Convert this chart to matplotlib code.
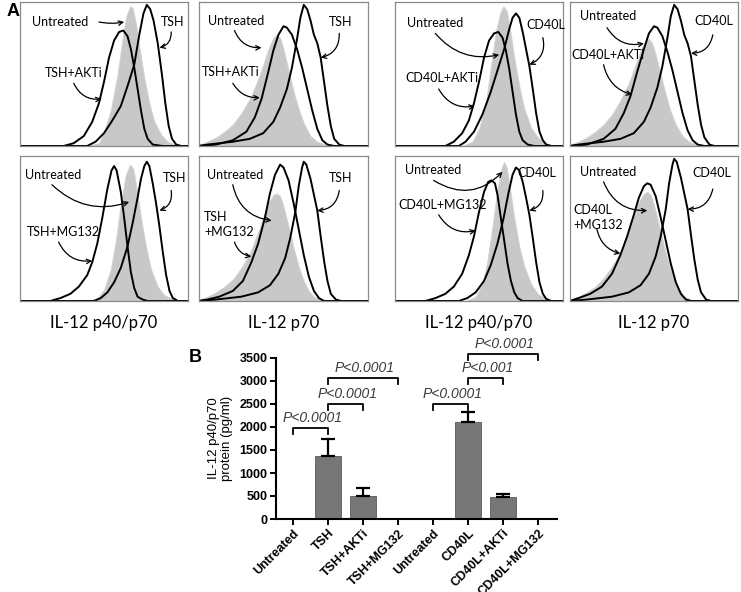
import matplotlib
matplotlib.use("Agg")
import matplotlib.pyplot as plt

# ---- panel A: histogram outlines (x, y as fraction of panel) ----
P1_UNT = [(0.40, 0), (0.47, 0.02), (0.50, 0.10), (0.54, 0.25), (0.58, 0.50), (0.61, 0.75), (0.63, 0.90),
          (0.655, 0.98), (0.67, 0.97), (0.69, 0.86), (0.71, 0.70), (0.74, 0.48), (0.77, 0.30), (0.80, 0.17),
          (0.84, 0.08), (0.88, 0.03), (0.94, 0.005), (1.0, 0)]
P1_INH = [(0, 0), (0.26, 0), (0.32, 0.02), (0.38, 0.07), (0.43, 0.17), (0.47, 0.30), (0.50, 0.45), (0.53, 0.62),
          (0.56, 0.74), (0.59, 0.80), (0.615, 0.81), (0.64, 0.77), (0.66, 0.68), (0.68, 0.55), (0.70, 0.40),
          (0.72, 0.25), (0.74, 0.12), (0.76, 0.05), (0.79, 0.01), (0.85, 0), (1, 0)]
P1_STIM = [(0, 0), (0.40, 0), (0.45, 0.03), (0.50, 0.09), (0.55, 0.18), (0.60, 0.28), (0.64, 0.42), (0.68, 0.57),
           (0.71, 0.78), (0.735, 0.93), (0.755, 0.99), (0.775, 0.96), (0.795, 0.88), (0.82, 0.72), (0.845, 0.50),
           (0.865, 0.30), (0.885, 0.14), (0.905, 0.05), (0.93, 0.01), (0.96, 0), (1, 0)]

P2_UNT = [(0, 0.01), (0.05, 0.03), (0.10, 0.06), (0.15, 0.10), (0.20, 0.15), (0.25, 0.23), (0.30, 0.33),
          (0.34, 0.44), (0.38, 0.57), (0.41, 0.68), (0.44, 0.76), (0.46, 0.78), (0.48, 0.76), (0.50, 0.68),
          (0.53, 0.53), (0.56, 0.38), (0.59, 0.26), (0.62, 0.16), (0.66, 0.07), (0.70, 0.03), (0.75, 0.01),
          (0.80, 0), (1, 0)]
P2_INH = [(0, 0), (0.10, 0.01), (0.20, 0.04), (0.28, 0.10), (0.33, 0.20), (0.37, 0.33), (0.41, 0.52),
          (0.44, 0.67), (0.47, 0.78), (0.50, 0.84), (0.52, 0.83), (0.55, 0.78), (0.58, 0.68), (0.61, 0.55),
          (0.64, 0.40), (0.67, 0.25), (0.70, 0.12), (0.73, 0.04), (0.76, 0.01), (0.80, 0), (1, 0)]
P2_STIM = [(0, 0), (0.05, 0.01), (0.20, 0.03), (0.30, 0.05), (0.38, 0.09), (0.44, 0.17), (0.48, 0.27),
           (0.52, 0.40), (0.55, 0.55), (0.58, 0.75), (0.60, 0.90), (0.62, 0.99), (0.64, 0.96), (0.66, 0.88),
           (0.68, 0.78), (0.70, 0.72), (0.72, 0.62), (0.74, 0.45), (0.76, 0.28), (0.78, 0.14), (0.80, 0.05),
           (0.83, 0.01), (0.86, 0), (1, 0)]

P3_UNT = [(0.40, 0), (0.46, 0.03), (0.50, 0.12), (0.54, 0.30), (0.57, 0.55), (0.60, 0.80), (0.625, 0.93),
          (0.645, 0.98), (0.665, 0.95), (0.685, 0.82), (0.71, 0.62), (0.74, 0.42), (0.77, 0.26), (0.81, 0.13),
          (0.85, 0.06), (0.90, 0.02), (0.95, 0), (1, 0)]
P3_INH = [(0, 0), (0.30, 0), (0.35, 0.03), (0.40, 0.09), (0.44, 0.18), (0.47, 0.30), (0.50, 0.45), (0.53, 0.62),
          (0.56, 0.74), (0.59, 0.79), (0.615, 0.80), (0.64, 0.76), (0.66, 0.67), (0.68, 0.54), (0.70, 0.38),
          (0.72, 0.22), (0.74, 0.10), (0.76, 0.04), (0.79, 0.01), (0.83, 0), (1, 0)]
P3_STIM = [(0, 0), (0.38, 0), (0.42, 0.03), (0.47, 0.10), (0.52, 0.22), (0.57, 0.38), (0.61, 0.53), (0.65, 0.68),
           (0.68, 0.82), (0.70, 0.90), (0.72, 0.93), (0.74, 0.90), (0.76, 0.80), (0.78, 0.68), (0.80, 0.56),
           (0.82, 0.40), (0.84, 0.23), (0.86, 0.10), (0.88, 0.04), (0.90, 0.01), (0.93, 0), (1, 0)]

P4_UNT = [(0, 0.01), (0.05, 0.03), (0.10, 0.06), (0.15, 0.10), (0.20, 0.15), (0.25, 0.22), (0.30, 0.32),
          (0.35, 0.44), (0.39, 0.57), (0.42, 0.67), (0.45, 0.74), (0.47, 0.75), (0.49, 0.72), (0.51, 0.64),
          (0.54, 0.50), (0.57, 0.36), (0.60, 0.24), (0.63, 0.15), (0.67, 0.07), (0.71, 0.03), (0.76, 0.01),
          (0.80, 0), (1, 0)]
P4_INH = [(0, 0), (0.10, 0.01), (0.20, 0.05), (0.27, 0.12), (0.32, 0.23), (0.36, 0.35), (0.40, 0.52),
          (0.44, 0.68), (0.47, 0.79), (0.50, 0.84), (0.52, 0.83), (0.55, 0.77), (0.58, 0.66), (0.61, 0.53),
          (0.64, 0.38), (0.67, 0.23), (0.70, 0.11), (0.73, 0.04), (0.76, 0.01), (0.80, 0), (1, 0)]
P4_STIM = [(0, 0), (0.05, 0.01), (0.20, 0.03), (0.30, 0.05), (0.38, 0.09), (0.44, 0.17), (0.48, 0.27),
           (0.52, 0.41), (0.55, 0.56), (0.58, 0.76), (0.60, 0.91), (0.62, 0.99), (0.64, 0.96), (0.66, 0.88),
           (0.68, 0.78), (0.70, 0.72), (0.72, 0.63), (0.74, 0.46), (0.76, 0.29), (0.78, 0.15), (0.80, 0.06),
           (0.83, 0.01), (0.86, 0), (1, 0)]

P5_UNT = [(0.40, 0), (0.46, 0.02), (0.50, 0.08), (0.54, 0.22), (0.57, 0.42), (0.60, 0.68), (0.63, 0.88),
          (0.655, 0.95), (0.675, 0.92), (0.695, 0.78), (0.72, 0.58), (0.75, 0.38), (0.78, 0.22), (0.82, 0.10),
          (0.86, 0.04), (0.92, 0.01), (1, 0)]
P5_INH = [(0, 0), (0.18, 0), (0.24, 0.02), (0.30, 0.05), (0.35, 0.10), (0.40, 0.18), (0.43, 0.27), (0.46, 0.40),
          (0.49, 0.58), (0.52, 0.78), (0.545, 0.91), (0.56, 0.94), (0.575, 0.91), (0.60, 0.76), (0.62, 0.58),
          (0.64, 0.38), (0.66, 0.20), (0.68, 0.09), (0.70, 0.03), (0.73, 0.01), (0.76, 0), (1, 0)]
P5_STIM = [(0, 0), (0.44, 0), (0.48, 0.02), (0.52, 0.06), (0.56, 0.13), (0.60, 0.23), (0.64, 0.38), (0.67, 0.54),
           (0.70, 0.72), (0.72, 0.85), (0.74, 0.94), (0.755, 0.97), (0.77, 0.94), (0.79, 0.82), (0.81, 0.68),
           (0.83, 0.52), (0.85, 0.34), (0.87, 0.18), (0.89, 0.07), (0.91, 0.02), (0.94, 0), (1, 0)]

P6_UNT = [(0, 0.01), (0.05, 0.03), (0.10, 0.06), (0.15, 0.10), (0.20, 0.15), (0.25, 0.23), (0.30, 0.33),
          (0.34, 0.45), (0.38, 0.58), (0.41, 0.68), (0.44, 0.74), (0.46, 0.75), (0.48, 0.73), (0.50, 0.66),
          (0.53, 0.52), (0.56, 0.37), (0.59, 0.24), (0.62, 0.14), (0.65, 0.07), (0.68, 0.03), (0.72, 0.01),
          (0.76, 0), (1, 0)]
P6_INH = [(0, 0), (0.05, 0.01), (0.12, 0.03), (0.20, 0.07), (0.26, 0.14), (0.31, 0.27), (0.35, 0.40),
          (0.39, 0.58), (0.42, 0.75), (0.45, 0.88), (0.48, 0.95), (0.50, 0.93), (0.53, 0.84), (0.56, 0.68),
          (0.59, 0.50), (0.62, 0.32), (0.65, 0.17), (0.68, 0.07), (0.71, 0.02), (0.74, 0), (1, 0)]
P6_STIM = [(0, 0), (0.10, 0.01), (0.25, 0.03), (0.35, 0.06), (0.42, 0.11), (0.47, 0.19), (0.51, 0.30),
           (0.54, 0.44), (0.57, 0.62), (0.59, 0.80), (0.61, 0.93), (0.62, 0.97), (0.635, 0.95), (0.66, 0.85),
           (0.68, 0.74), (0.70, 0.63), (0.72, 0.45), (0.74, 0.28), (0.76, 0.14), (0.78, 0.05), (0.81, 0.01),
           (0.84, 0), (1, 0)]

P7_UNT = [(0.42, 0), (0.48, 0.03), (0.52, 0.12), (0.55, 0.28), (0.58, 0.52), (0.61, 0.78), (0.635, 0.93),
          (0.65, 0.97), (0.665, 0.93), (0.685, 0.78), (0.71, 0.58), (0.74, 0.38), (0.77, 0.24), (0.81, 0.12),
          (0.85, 0.05), (0.90, 0.015), (0.95, 0), (1, 0)]
P7_INH = [(0, 0), (0.18, 0), (0.24, 0.02), (0.30, 0.05), (0.35, 0.10), (0.40, 0.19), (0.44, 0.32), (0.47, 0.45),
          (0.50, 0.62), (0.53, 0.76), (0.555, 0.83), (0.575, 0.84), (0.595, 0.82), (0.61, 0.74), (0.63, 0.58),
          (0.65, 0.42), (0.67, 0.26), (0.69, 0.14), (0.71, 0.06), (0.73, 0.02), (0.76, 0), (1, 0)]
P7_STIM = [(0, 0), (0.38, 0), (0.43, 0.02), (0.48, 0.06), (0.53, 0.14), (0.57, 0.25), (0.61, 0.40), (0.645, 0.57),
           (0.675, 0.75), (0.70, 0.88), (0.72, 0.93), (0.74, 0.91), (0.76, 0.83), (0.78, 0.72), (0.80, 0.60),
           (0.82, 0.44), (0.84, 0.27), (0.86, 0.13), (0.88, 0.05), (0.90, 0.015), (0.93, 0), (1, 0)]

P8_UNT = [(0, 0.01), (0.05, 0.03), (0.10, 0.06), (0.15, 0.10), (0.20, 0.16), (0.25, 0.24), (0.30, 0.34),
          (0.34, 0.46), (0.38, 0.59), (0.41, 0.69), (0.44, 0.75), (0.46, 0.76), (0.48, 0.74), (0.50, 0.67),
          (0.53, 0.53), (0.56, 0.38), (0.59, 0.25), (0.62, 0.15), (0.65, 0.08), (0.68, 0.03), (0.72, 0.01),
          (0.76, 0), (1, 0)]
P8_INH = [(0, 0), (0.05, 0.02), (0.12, 0.05), (0.19, 0.10), (0.25, 0.19), (0.30, 0.32), (0.34, 0.45),
          (0.38, 0.60), (0.41, 0.72), (0.44, 0.80), (0.46, 0.82), (0.48, 0.81), (0.51, 0.73), (0.54, 0.58),
          (0.57, 0.42), (0.60, 0.26), (0.63, 0.13), (0.66, 0.05), (0.69, 0.01), (0.72, 0), (1, 0)]
P8_STIM = [(0, 0), (0.10, 0.01), (0.25, 0.03), (0.35, 0.06), (0.42, 0.11), (0.47, 0.19), (0.51, 0.31),
           (0.54, 0.45), (0.57, 0.64), (0.59, 0.82), (0.61, 0.95), (0.62, 0.99), (0.635, 0.97), (0.66, 0.86),
           (0.68, 0.75), (0.70, 0.64), (0.72, 0.46), (0.74, 0.29), (0.76, 0.15), (0.78, 0.06), (0.81, 0.01),
           (0.84, 0), (1, 0)]

AXIS_LABELS = ["IL-12 p40/p70", "IL-12 p70", "IL-12 p40/p70", "IL-12 p70"]

# ---- panel B: ELISA ----
GROUPS = ["Untreated", "TSH", "TSH+AKTi", "TSH+MG132", "Untreated", "CD40L", "CD40L+AKTi", "CD40L+MG132"]
IL12_MEAN = [0, 1360, 490, 0, 0, 2110, 470, 0]
IL12_ERR = [0, 390, 180, 0, 0, 220, 65, 0]
PVALS = [(0, 1, 1975, "P<0.0001"), (1, 2, 2505, "P<0.0001"), (1, 3, 3064, "P<0.0001"),
         (4, 5, 2505, "P<0.0001"), (5, 6, 3064, "P<0.001"), (5, 7, 3587, "P<0.0001")]

W, H = 741, 592
fig = plt.figure(figsize=(W / 100, H / 100), dpi=100)
FONT = "Lato"


def px_axes(x0, y0, x1, y1):
    return fig.add_axes([x0 / W, 1 - y1 / H, (x1 - x0) / W, (y1 - y0) / H])


# panel box, curves, then (label, text pos, arrow tail, arrow tip, rad)
PANELS = [
    ((20, 2, 188, 146), P1_UNT, P1_INH, P1_STIM,
     [("Untreated", (0.07, 0.87), (0.47, 0.87), (0.62, 0.87), 0.1),
      ("TSH", (0.84, 0.87), (0.90, 0.80), (0.83, 0.69), -0.4),
      ("TSH+AKTi", (0.15, 0.51), (0.32, 0.44), (0.485, 0.33), 0.35)]),
    ((199, 2, 368, 146), P2_UNT, P2_INH, P2_STIM,
     [("Untreated", (0.055, 0.88), (0.21, 0.81), (0.37, 0.69), 0.35),
      ("TSH", (0.77, 0.87), (0.83, 0.79), (0.72, 0.62), -0.4),
      ("TSH+AKTi", (0.015, 0.52), (0.20, 0.44), (0.36, 0.34), 0.3)]),
    ((395, 2, 563, 146), P3_UNT, P3_INH, P3_STIM,
     [("Untreated", (0.07, 0.86), (0.24, 0.79), (0.62, 0.64), 0.3),
      ("CD40L", (0.78, 0.85), (0.88, 0.76), (0.80, 0.57), -0.4),
      ("CD40L+AKTi", (0.06, 0.48), (0.26, 0.40), (0.475, 0.28), 0.35)]),
    ((570, 2, 738, 146), P4_UNT, P4_INH, P4_STIM,
     [("Untreated", (0.06, 0.91), (0.22, 0.83), (0.44, 0.72), 0.35),
      ("CD40L", (0.74, 0.88), (0.85, 0.78), (0.72, 0.65), -0.4),
      ("CD40L+AKTi", (0.01, 0.64), (0.20, 0.57), (0.37, 0.36), 0.3)]),
    ((20, 156, 188, 301), P5_UNT, P5_INH, P5_STIM,
     [("Untreated", (0.03, 0.88), (0.19, 0.81), (0.65, 0.69), 0.3),
      ("TSH", (0.85, 0.86), (0.90, 0.77), (0.83, 0.63), -0.4),
      ("TSH+MG132", (0.04, 0.48), (0.23, 0.41), (0.43, 0.28), 0.35)]),
    ((199, 156, 368, 301), P6_UNT, P6_INH, P6_STIM,
     [("Untreated", (0.045, 0.88), (0.20, 0.81), (0.43, 0.56), 0.35),
      ("TSH", (0.77, 0.86), (0.83, 0.77), (0.70, 0.63), -0.4),
      ("TSH\n+MG132", (0.03, 0.53), (0.21, 0.41), (0.31, 0.31), 0.3)]),
    ((395, 156, 563, 301), P7_UNT, P7_INH, P7_STIM,
     [("Untreated", (0.06, 0.91), (0.23, 0.84), (0.64, 0.90), 0.4),
      ("CD40L", (0.73, 0.89), (0.88, 0.77), (0.80, 0.63), -0.4),
      ("CD40L+MG132", (0.02, 0.67), (0.26, 0.60), (0.48, 0.49), 0.35)]),
    ((570, 156, 738, 301), P8_UNT, P8_INH, P8_STIM,
     [("Untreated", (0.06, 0.90), (0.20, 0.83), (0.46, 0.63), 0.35),
      ("CD40L", (0.73, 0.89), (0.85, 0.78), (0.70, 0.64), -0.4),
      ("CD40L\n+MG132", (0.02, 0.58), (0.16, 0.50), (0.30, 0.33), 0.3)]),
]

for box, unt, inh, stim, notes in PANELS:
    ax = px_axes(*box)
    ux, uy = zip(*unt)
    ax.fill_between(ux, uy, 0, color="#c8c8c8", lw=0.6, edgecolor="#d4d4d4")
    for curve in (inh, stim):
        cx, cy = zip(*curve)
        ax.plot(cx, cy, color="black", lw=1.4, solid_joinstyle="round")
    for text, tpos, tail, tip, rad in notes:
        ax.text(tpos[0], tpos[1], text, family=FONT, fontsize=9, ha="left", va="center",
                linespacing=1.3)
        ax.annotate("", xy=tip, xytext=tail,
                    arrowprops=dict(arrowstyle="->", lw=0.9, color="black", shrinkA=0, shrinkB=0,
                                    connectionstyle=f"arc3,rad={rad}", mutation_scale=8))
    ax.set_xlim(0, 1)
    ax.set_ylim(0, 1.01)
    ax.set_xticks([])
    ax.set_yticks([])
    for s in ax.spines.values():
        s.set_color("#8a8a8a")
        s.set_linewidth(0.9)

for i, lab in enumerate(AXIS_LABELS):
    x0, _, x1, _ = PANELS[i][0]
    fig.text((x0 + x1) / 2 / W, 1 - 323 / H, lab, family=FONT, fontsize=12, ha="center", va="center")

fig.text(7 / W, 1 - 12 / H, "A", family="Liberation Sans", fontsize=13, fontweight="bold", va="center")
fig.text(189 / W, 1 - 357 / H, "B", family="Liberation Sans", fontsize=13, fontweight="bold", va="center")

# ---- bar chart ----
bx = px_axes(276, 358, 557, 519)
x = list(range(len(GROUPS)))
bx.bar(x, IL12_MEAN, width=0.72, color="#777777", edgecolor="#5a5a5a", lw=0.6, zorder=2)
for i in x:
    if IL12_MEAN[i] > 0:
        bx.errorbar(i, IL12_MEAN[i], yerr=[[0], [IL12_ERR[i]]], color="black", lw=1.6,
                    capsize=5, capthick=1.6, zorder=3)
for i, j, y, txt in PVALS:
    leg = 130
    bx.plot([i, i, j, j], [y - leg, y, y, y - leg], color="black", lw=1.3, clip_on=False, zorder=4)
    bx.text((i + j) / 2 + 0.05, y + 60, txt, family="Liberation Sans", style="italic", fontsize=10,
            color="#3a3a3a", ha="center", va="bottom", clip_on=False)

bx.set_xlim(-0.486, 7.54)
bx.set_ylim(0, 3500)
bx.set_yticks(range(0, 3501, 500))
bx.set_xticks(x)
bx.set_xticklabels(GROUPS, rotation=45, ha="right", rotation_mode="anchor")
for lab in bx.get_xticklabels() + bx.get_yticklabels():
    lab.set_family("Liberation Sans")
    lab.set_fontweight("bold")
    lab.set_fontsize(9)
bx.tick_params(axis="both", width=1.4, length=4, pad=2)
for s in ("top", "right"):
    bx.spines[s].set_visible(False)
for s in ("left", "bottom"):
    bx.spines[s].set_linewidth(1.5)
bx.set_ylabel("IL-12 p40/p70\nprotein (pg/ml)", family="Liberation Sans", fontsize=9.5, labelpad=5,
              linespacing=1.1)

fig.savefig("out.png", dpi=100)
